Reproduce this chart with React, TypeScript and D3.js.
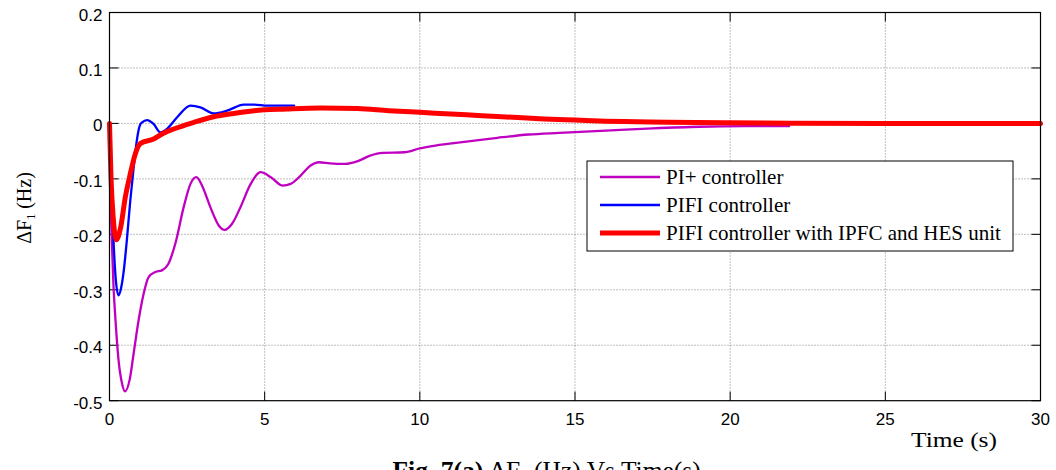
import React from "react";
import * as d3 from "d3";

const xTicks = [0, 5, 10, 15, 20, 25, 30];
const yTicks = [0.2, 0.1, 0, -0.1, -0.2, -0.3, -0.4, -0.5];
const yTickLabels = ["0.2", "0.1", "0", "-0.1", "-0.2", "-0.3", "-0.4", "-0.5"];

const piTime = [0, 0.03, 0.08, 0.13, 0.18, 0.29, 0.4, 0.5, 0.65, 0.78, 0.94, 1.1, 1.26, 1.48, 1.69, 1.9, 2.12, 2.39, 2.61, 2.8, 2.98, 3.25, 3.52, 3.71, 3.95, 4.22, 4.55, 4.87, 5.2, 5.57, 5.84, 6.16, 6.48, 6.75, 7.1, 7.6, 8.0, 8.4, 8.8, 9.5, 10, 10.5, 11.5, 12.5, 13.5, 14.5, 16, 17.5, 19, 20.5, 21.9];
const piValues = [0, -0.12, -0.22, -0.295, -0.343, -0.426, -0.468, -0.483, -0.462, -0.414, -0.354, -0.307, -0.277, -0.268, -0.265, -0.253, -0.217, -0.151, -0.109, -0.097, -0.112, -0.151, -0.184, -0.192, -0.181, -0.151, -0.109, -0.088, -0.097, -0.112, -0.109, -0.094, -0.076, -0.07, -0.072, -0.073, -0.068, -0.058, -0.053, -0.052, -0.045, -0.04, -0.033, -0.026, -0.02, -0.017, -0.013, -0.009, -0.006, -0.005, -0.005];

const pifiTime = [0, 0.05, 0.12, 0.2, 0.29, 0.38, 0.45, 0.56, 0.67, 0.78, 0.88, 0.97, 1.05, 1.21, 1.42, 1.64, 1.85, 2.18, 2.61, 2.93, 3.36, 3.79, 4.33, 4.66, 5.09, 5.95];
const pifiValues = [0, -0.1, -0.2, -0.28, -0.31, -0.295, -0.27, -0.21, -0.139, -0.079, -0.031, -0.005, 0.002, 0.006, -0.001, -0.016, -0.01, 0.011, 0.032, 0.029, 0.018, 0.023, 0.034, 0.034, 0.032, 0.032];

const hesTime = [0, 0.05, 0.12, 0.22, 0.35, 0.51, 0.67, 0.83, 1.0, 1.42, 1.69, 2.07, 2.72, 3.36, 4.0, 4.66, 5.7, 6.8, 8, 9, 10, 11, 12, 13, 14, 15, 16, 17, 18, 20, 22, 25, 30];
const hesValues = [0, -0.1, -0.17, -0.21, -0.19, -0.133, -0.091, -0.055, -0.036, -0.028, -0.019, -0.01, 0.002, 0.012, 0.018, 0.023, 0.026, 0.028, 0.027, 0.023, 0.02, 0.017, 0.014, 0.011, 0.008, 0.006, 0.004, 0.003, 0.002, 0.001, 0.0005, 0, 0];

const seriesNames = ["PI+ controller", "PIFI controller", "PIFI controller with IPFC and HES unit"];
const seriesColors = ["#c000c0", "#0000ff", "#ff0000"];
const seriesWidths = [2.3, 2.3, 5];

const W = 1056;
const H = 470;
const left = 109.5;
const right = 1040.5;
const top = 12.5;
const bottom = 400.7;

export default function App() {
  const x = d3.scaleLinear().domain([0, 30]).range([left, right]);
  const y = d3.scaleLinear().domain([-0.5, 0.2]).range([bottom, top]);
  const line = d3
    .line<[number, number]>()
    .x((d) => x(d[0]))
    .y((d) => y(d[1]))
    .curve(d3.curveMonotoneX);

  const series = [
    d3.zip(piTime, piValues) as [number, number][],
    d3.zip(pifiTime, pifiValues) as [number, number][],
    d3.zip(hesTime, hesValues) as [number, number][],
  ];

  const tickLen = 9;
  const tickFont = "'Liberation Sans', Arial, sans-serif";
  const serif = "'Liberation Serif', 'Times New Roman', serif";

  const legendX = 587;
  const legendY = 161;
  const legendW = 426;
  const legendH = 90;
  const rowY = [177, 205, 233];

  return (
    <svg
      width={W}
      height={H}
      style={{ position: "absolute", left: 0, top: 0, background: "#fff" }}
    >
      <rect x={0} y={0} width={W} height={H} fill="#fff" />
      {xTicks.slice(1, -1).map((t) => (
        <line
          key={"gx" + t}
          x1={x(t)}
          x2={x(t)}
          y1={top}
          y2={bottom}
          stroke="#606060"
          strokeWidth={0.8}
          strokeDasharray="1 2"
        />
      ))}
      {yTicks.slice(1, -1).map((t) => (
        <line
          key={"gy" + t}
          x1={left}
          x2={right}
          y1={y(t)}
          y2={y(t)}
          stroke="#606060"
          strokeWidth={0.8}
          strokeDasharray="1 2"
        />
      ))}
      {xTicks.map((t) => (
        <g key={"tx" + t}>
          <line x1={x(t)} x2={x(t)} y1={bottom} y2={bottom - tickLen} stroke="#000" />
          <line x1={x(t)} x2={x(t)} y1={top} y2={top + tickLen} stroke="#000" />
          <text
            x={x(t)}
            y={425}
            textAnchor="middle"
            fontFamily={tickFont}
            fontSize={17}
            fill="#000"
          >
            {t}
          </text>
        </g>
      ))}
      {yTicks.map((t, i) => (
        <g key={"ty" + t}>
          <line x1={left} x2={left + tickLen} y1={y(t)} y2={y(t)} stroke="#000" />
          <line x1={right} x2={right - tickLen} y1={y(t)} y2={y(t)} stroke="#000" />
          <text
            x={102.5}
            y={y(t) + 8}
            textAnchor="end"
            fontFamily={tickFont}
            fontSize={17}
            fill="#000"
          >
            {yTickLabels[i]}
          </text>
        </g>
      ))}
      {series.map((s, i) => (
        <path
          key={"s" + i}
          d={line(s) || ""}
          fill="none"
          stroke={seriesColors[i]}
          strokeWidth={seriesWidths[i]}
          strokeLinejoin="round"
          strokeLinecap="round"
        />
      ))}
      <rect
        x={left}
        y={top}
        width={right - left}
        height={bottom - top}
        fill="none"
        stroke="#000"
        strokeWidth={1.2}
      />
      <rect
        x={legendX}
        y={legendY}
        width={legendW}
        height={legendH}
        fill="#fff"
        stroke="#000"
        strokeWidth={1}
      />
      {seriesNames.map((n, i) => (
        <g key={"lg" + i}>
          <line
            x1={600}
            x2={660}
            y1={rowY[i]}
            y2={rowY[i]}
            stroke={seriesColors[i]}
            strokeWidth={seriesWidths[i]}
          />
          <text
            x={666}
            y={rowY[i] + 7}
            fontFamily={serif}
            fontSize={21}
            fill="#000"
          >
            {n}
          </text>
        </g>
      ))}
      <text
        transform="translate(31,208) rotate(-90)"
        textAnchor="middle"
        fontFamily={serif}
        fontSize={20}
        fill="#000"
      >
        ΔF<tspan fontSize={12} dy={4}>1</tspan>
        <tspan dy={-4}> (Hz)</tspan>
      </text>
      <text x={911} y={447} fontFamily={serif} fontSize={22} fill="#000" textLength={86} lengthAdjust="spacingAndGlyphs">
        Time (s)
      </text>
      <text x={392.5} y={479} fontFamily={serif} fontSize={25.5} fill="#000">
        <tspan fontWeight="bold">Fig. 7(a)</tspan>
        <tspan> ΔF</tspan>
        <tspan fontSize={15} dy={5}>1</tspan>
        <tspan dy={-5}> (Hz) Vs Time(s)</tspan>
      </text>
    </svg>
  );
}
